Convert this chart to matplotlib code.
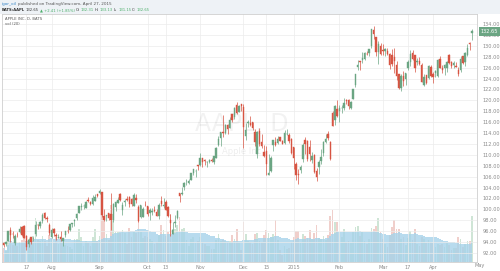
import numpy as np
import pandas as pd
import matplotlib
matplotlib.use("Agg")
import matplotlib.pyplot as plt
from matplotlib.patches import Rectangle
from matplotlib.transforms import blended_transform_factory

# AAPL daily candles, BATS, Jul 2 2014 - Apr 27 2015
holidays = ["2014-07-04", "2014-09-01", "2014-11-27", "2014-12-25",
            "2015-01-01", "2015-01-19", "2015-02-16", "2015-04-03"]
dates = pd.bdate_range("2014-07-02", "2015-04-27")
dates = dates[~dates.isin(pd.to_datetime(holidays))]

opens = [
    93.87, 93.67, 94.14, 96.27, 95.44, 93.76, 95.36, 95.86, 96.80, 96.97, 95.03, 93.62, 94.99, 94.68, 95.42, 97.04, 96.85, 97.82, 99.33, 98.44, 97.16,
    94.90, 96.37, 95.36, 94.75, 94.93, 94.26, 95.27, 96.04, 96.15, 97.33, 97.90, 98.49, 99.41, 100.44, 100.57, 100.29, 101.79, 101.42, 101.02, 101.59, 102.86,
    103.06, 103.10, 98.85, 98.80, 99.30, 99.08, 98.01, 100.41, 101.21, 102.81, 99.80, 101.27, 101.93, 102.29, 101.80, 100.60, 102.16, 100.51, 98.53, 98.65, 100.81,
    100.59, 99.27, 99.44, 99.95, 99.43, 98.76, 101.54, 100.69, 101.33, 100.39, 97.97, 95.55, 97.50, 98.32, 103.02, 102.84, 104.08, 105.18, 104.85, 105.40, 106.65, 106.96, 108.01,
    108.22, 109.36, 109.10, 108.60, 108.75, 109.02, 108.70, 109.38, 111.80, 113.15, 114.27, 113.94, 115.44, 114.91, 117.51, 116.85, 119.07, 117.94, 119.27,
    118.81, 113.50, 115.75, 115.77, 115.99, 114.10, 110.19, 114.41, 112.26, 110.46, 110.70, 106.37, 107.12, 111.87, 112.26, 112.16, 113.23, 112.58, 112.10, 113.79, 113.64, 112.82,
    111.39, 108.29, 106.54, 107.20, 109.23, 112.67, 112.60, 111.43, 109.04, 110.00, 107.03, 107.84, 108.95, 110.26, 112.30, 113.74, 112.42, 117.63, 116.32, 118.40,
    118.05, 118.50, 118.50, 120.02, 120.02, 118.55, 120.17, 122.77, 126.06, 127.28, 127.49, 127.63, 128.48, 128.62, 130.02, 132.94, 131.56, 128.79, 130.00,
    129.25, 128.96, 129.10, 128.58, 128.40, 127.96, 126.41, 124.75, 122.31, 124.40, 123.88, 125.90, 127.00, 128.75, 128.25, 127.12, 127.23, 126.54, 122.76, 124.57, 124.05, 126.09,
    124.82, 125.03, 124.47, 127.64, 125.85, 125.85, 125.95, 128.37, 127.00, 126.41, 126.28, 125.55, 125.57, 128.10, 126.99, 128.30, 130.49, 132.31,
]
highs = [
    94.06, 94.10, 95.99, 96.80, 95.95, 95.55, 95.89, 96.89, 96.85, 97.10, 95.28, 94.74, 95.00, 94.89, 97.88, 97.32, 97.84, 99.24, 99.44, 98.70, 97.45,
    96.62, 96.58, 95.68, 95.48, 95.95, 94.82, 96.08, 96.88, 97.24, 97.57, 98.19, 99.37, 100.68, 101.09, 100.94, 101.47, 102.17, 101.50, 102.57, 102.78, 102.90,
    103.74, 103.20, 100.09, 98.97, 99.31, 103.08, 101.11, 101.44, 102.19, 103.05, 101.26, 101.80, 102.35, 102.35, 102.14, 102.94, 102.85, 100.71, 100.75, 100.44, 101.54,
    100.69, 100.22, 100.21, 100.65, 100.12, 101.11, 102.38, 102.03, 101.78, 100.52, 99.15, 97.72, 99.00, 99.96, 103.02, 104.11, 105.05, 105.49, 105.48, 106.74, 107.37, 107.35, 108.04,
    110.30, 109.49, 109.30, 108.79, 109.32, 109.33, 109.75, 111.43, 113.45, 114.19, 117.28, 115.69, 115.74, 116.86, 117.57, 118.77, 119.75, 119.10, 119.40,
    119.25, 115.75, 116.35, 117.20, 116.08, 114.65, 114.30, 114.85, 113.80, 111.87, 111.60, 110.16, 109.84, 112.65, 113.24, 113.49, 113.33, 112.71, 114.52, 114.77, 113.92, 113.13,
    111.44, 108.65, 107.43, 108.20, 112.15, 113.25, 112.63, 112.80, 110.49, 110.06, 107.58, 108.97, 111.06, 112.47, 113.75, 114.36, 112.48, 118.12, 119.19, 120.00,
    119.17, 119.09, 120.51, 120.23, 120.25, 119.84, 122.15, 124.92, 127.48, 127.28, 128.88, 128.78, 129.03, 129.50, 133.00, 133.60, 131.60, 130.87, 130.57,
    130.28, 129.52, 129.56, 128.75, 129.37, 129.57, 127.22, 124.77, 124.90, 125.40, 124.95, 127.32, 129.16, 129.25, 128.40, 127.85, 128.04, 126.82, 124.88, 124.70, 126.40, 126.49,
    125.12, 125.56, 127.51, 128.12, 126.40, 126.58, 127.21, 128.57, 127.29, 127.13, 127.10, 126.14, 128.12, 128.20, 128.87, 130.42, 130.63, 133.13,
]
lows = [
    93.09, 93.20, 94.10, 93.92, 94.76, 93.52, 94.86, 95.65, 95.03, 94.74, 92.57, 93.02, 93.72, 94.12, 95.17, 96.42, 96.64, 97.55, 98.25, 97.67, 95.33,
    94.81, 95.17, 94.36, 94.71, 94.10, 93.28, 94.84, 95.61, 96.04, 96.80, 96.86, 97.98, 99.32, 99.95, 100.11, 100.19, 101.28, 100.86, 100.70, 101.56, 102.20,
    102.72, 98.58, 97.79, 97.88, 98.05, 96.14, 97.76, 99.62, 101.08, 101.44, 98.89, 100.59, 101.56, 100.50, 100.58, 100.54, 101.20, 97.72, 98.40, 98.63, 100.53,
    98.70, 98.04, 99.04, 99.42, 98.73, 98.31, 100.61, 100.30, 99.81, 98.57, 95.18, 95.41, 96.81, 98.22, 101.27, 102.60, 103.63, 104.53, 104.70, 105.35, 106.36, 105.90, 107.21,
    108.01, 107.72, 108.12, 107.80, 108.55, 108.67, 108.40, 109.37, 111.60, 111.56, 113.30, 113.89, 113.80, 114.85, 116.03, 116.62, 117.45, 117.83, 118.05,
    111.27, 112.75, 115.11, 115.29, 114.64, 111.62, 109.35, 111.54, 111.34, 109.58, 106.35, 106.26, 106.82, 110.66, 111.66, 111.97, 112.46, 112.01, 112.01, 113.70, 112.11, 110.21,
    107.35, 105.41, 104.63, 106.70, 108.70, 110.21, 108.80, 108.91, 108.50, 106.66, 105.20, 106.50, 108.27, 109.72, 112.13, 112.80, 109.03, 115.31, 115.56, 116.85,
    116.08, 117.61, 118.31, 119.25, 118.45, 118.43, 120.16, 122.50, 125.57, 125.65, 126.92, 127.45, 128.33, 128.05, 129.66, 131.17, 128.15, 126.61, 128.24,
    128.30, 128.09, 128.32, 125.76, 126.26, 125.06, 123.80, 122.11, 121.63, 122.58, 122.87, 125.65, 126.37, 127.40, 125.16, 126.52, 126.56, 123.38, 122.60, 122.91, 124.00, 124.36,
    123.10, 124.19, 124.33, 125.98, 124.97, 124.66, 125.26, 126.61, 125.91, 126.01, 126.11, 124.46, 125.17, 126.67, 126.32, 128.14, 129.23, 131.15,
]
closes = [
    93.48, 94.03, 95.97, 95.35, 95.39, 95.04, 95.22, 96.45, 95.32, 94.78, 93.09, 94.43, 93.94, 94.72, 97.19, 97.03, 97.67, 99.02, 98.38, 98.15, 95.60,
    96.13, 95.59, 95.12, 94.96, 94.48, 94.74, 95.99, 95.97, 97.24, 97.50, 97.98, 99.16, 100.53, 100.57, 100.58, 101.32, 101.54, 100.89, 102.13, 102.25, 102.50,
    103.30, 98.94, 98.12, 98.97, 98.36, 97.99, 101.00, 101.43, 101.66, 101.63, 100.86, 101.58, 101.79, 100.96, 101.06, 102.64, 101.75, 97.87, 100.75, 100.11, 100.75,
    99.18, 99.90, 99.62, 99.62, 98.75, 100.80, 101.02, 100.73, 99.81, 98.75, 97.54, 96.26, 97.67, 99.76, 102.47, 102.99, 104.83, 105.22, 105.11, 106.74, 107.34, 106.98, 108.00,
    109.40, 108.60, 108.86, 108.70, 109.01, 108.83, 109.70, 111.25, 112.82, 114.18, 113.99, 115.47, 114.67, 116.31, 116.47, 118.63, 117.60, 119.00, 118.93,
    115.07, 114.63, 115.93, 115.49, 115.00, 112.40, 114.12, 111.95, 111.62, 109.73, 108.23, 106.75, 109.41, 112.65, 111.78, 112.94, 112.54, 112.01, 113.99, 113.91, 112.52, 110.38,
    109.33, 106.25, 106.26, 107.75, 111.89, 112.01, 109.25, 110.22, 109.80, 106.82, 105.99, 108.72, 109.55, 112.40, 112.98, 113.10, 109.14, 115.31, 118.90, 117.16,
    118.63, 118.65, 119.56, 119.94, 118.93, 119.72, 122.02, 124.88, 126.46, 127.08, 127.83, 128.72, 128.45, 129.50, 133.00, 132.17, 128.79, 130.42, 128.46,
    129.09, 129.36, 128.54, 126.41, 126.60, 127.14, 124.51, 122.24, 124.45, 123.59, 124.95, 127.04, 128.47, 127.50, 125.90, 127.21, 126.69, 123.38, 124.24, 123.25, 126.37, 124.43,
    124.25, 125.32, 127.35, 126.01, 125.60, 126.56, 127.10, 126.85, 126.30, 126.78, 126.17, 124.75, 127.60, 126.91, 128.62, 129.67, 130.28, 132.65,
]
# volume, millions
volumes = [
    28.4, 22.9, 56.5, 65.1, 36.4, 39.7, 34.0, 42.8, 45.5, 53.4, 57.3, 49.0, 39.1, 55.2, 92.9, 45.7, 43.5, 55.3, 43.1, 33.0, 56.8,
    48.5, 39.9, 55.9, 38.5, 46.7, 41.9, 36.6, 33.8, 31.9, 28.1, 48.9, 47.6, 69.0, 52.7, 33.5, 44.2, 40.3, 33.2, 52.4, 68.5, 44.6,
    53.6, 105.0, 85.7, 58.5, 46.4, 120.0, 100.9, 62.4, 62.9, 61.3, 66.9, 60.9, 37.3, 70.9, 52.8, 63.4, 60.2, 100.1, 62.4, 49.8, 55.3,
    51.5, 47.8, 43.5, 37.1, 42.1, 57.4, 77.4, 66.3, 53.6, 63.7, 100.9, 68.2, 68.2, 77.5, 94.6, 68.3, 71.1, 47.1, 34.2, 48.1, 52.7, 40.6, 44.6,
    52.3, 41.6, 37.4, 34.0, 33.7, 27.2, 27.4, 46.9, 59.5, 44.1, 46.7, 44.2, 41.9, 43.4, 57.2, 47.5, 68.8, 40.8, 24.8,
    83.8, 59.3, 43.1, 42.2, 38.3, 57.7, 60.2, 44.6, 41.5, 56.0, 67.2, 60.8, 53.4, 59.0, 88.4, 45.2, 26.0, 14.5, 33.7, 27.6, 29.9, 41.4,
    53.2, 64.3, 65.8, 40.1, 59.4, 53.7, 49.7, 67.1, 48.3, 60.0, 78.5, 49.6, 48.6, 53.8, 46.5, 55.6, 95.9, 110.0, 84.4, 83.7,
    62.7, 51.9, 70.1, 42.2, 43.7, 38.9, 62.0, 73.6, 74.5, 54.3, 63.2, 44.9, 37.4, 48.9, 70.9, 69.3, 74.7, 91.3, 62.0,
    48.1, 37.8, 31.7, 56.5, 72.8, 88.5, 68.9, 68.9, 48.4, 51.8, 35.9, 51.0, 65.3, 45.6, 68.7, 37.7, 32.8, 51.7, 47.6, 39.5, 47.1, 42.1,
    40.6, 32.2, 37.2, 35.0, 37.3, 32.5, 40.2, 36.4, 25.5, 28.9, 28.4, 51.9, 47.9, 32.4, 37.7, 43.5, 44.5, 96.9,
]

tick_dates = ["2014-07-17", "2014-08-01", "2014-09-02", "2014-10-01", "2014-10-13",
              "2014-11-03", "2014-12-01", "2014-12-15", "2015-01-02", "2015-02-02",
              "2015-03-02", "2015-03-17", "2015-04-01"]
tick_labels = ["17", "Aug", "Sep", "Oct", "13", "Nov", "Dec", "15", "2015",
               "Feb", "Mar", "17", "Apr"]

UP = "#6ba583"
DOWN = "#d75442"
W, H = 500, 271

o = np.array(opens)
h = np.array(highs)
l = np.array(lows)
c = np.array(closes)
v = np.array(volumes)
x = np.arange(len(c))
up = c >= o
cols = np.where(up, UP, DOWN)

fig = plt.figure(figsize=(W / 100, H / 100), dpi=100)
fig.patch.set_facecolor("white")
fig.add_artist(Rectangle((0, 1 - 14 / H), 1, 14 / H, transform=fig.transFigure,
                         facecolor="#eef2f6", edgecolor="none", zorder=0))

ax = fig.add_axes([2 / W, 9 / H, 475 / W, 248 / H])
axv = ax.twinx()
axv.set_zorder(0)
ax.set_zorder(1)
ax.patch.set_alpha(0)

# volume + 20 day average
vcols = np.where(up, "#cfe5d6", "#f0cfcb")
axv.bar(x, v, width=0.75, color=vcols, linewidth=0)
vma = pd.Series(v).rolling(20, min_periods=1).mean()
axv.fill_between(x, 0, vma, color="#a6d3ea", alpha=0.8, linewidth=0, step="mid")
axv.set_ylim(0, 520)
axv.set_axis_off()

# candles
ax.vlines(x, l, h, colors=cols, linewidth=0.5, zorder=3)
body = np.maximum(np.abs(c - o), 0.06)
ax.bar(x, body, bottom=np.minimum(o, c), width=0.62, color=cols,
       edgecolor=cols, linewidth=0.3, zorder=4)

ax.set_xlim(-0.7, 207.2)
ax.set_ylim(90.33, 135.84)

pos = [dates.get_loc(pd.Timestamp(d)) for d in tick_dates]
ax.set_xticks(pos)
ax.set_xticklabels(tick_labels)
ax.yaxis.tick_right()
yt = np.arange(92, 135, 2)
ax.set_yticks(yt)
ax.set_yticklabels(["%.2f" % t for t in yt])
ax.tick_params(axis="both", length=0, labelsize=3.6, labelcolor="#8a8a8a")
ax.tick_params(axis="x", pad=2.5)
ax.tick_params(axis="y", pad=4)
ax.grid(color="#ececec", linewidth=0.5)
ax.set_axisbelow(True)
for s in ax.spines.values():
    s.set_color("#cfcfcf")
    s.set_linewidth(0.6)

fig.text(480 / W, 1 - 266 / H, "May", fontsize=3.6, color="#8a8a8a",
         ha="center", va="center")

# last price label
tr = blended_transform_factory(ax.transAxes, ax.transData)
ax.text(1.008, c[-1], "%.2f" % c[-1], transform=tr, fontsize=3.6, color="white",
        ha="left", va="center", zorder=6, clip_on=False,
        bbox=dict(boxstyle="square,pad=0.35", facecolor=UP, edgecolor="none"))

# watermark
ax.text(0.505, 0.555, "AAPL, D", transform=ax.transAxes, fontsize=17,
        color="#000000", alpha=0.05, ha="center", va="center", zorder=1)
ax.text(0.505, 0.445, "Apple Inc", transform=ax.transAxes, fontsize=6,
        color="#000000", alpha=0.07, ha="center", va="center", zorder=1)

fig.text(5 / W, 1 - 19 / H, "APPLE INC, D, BATS", fontsize=2.7, color="#555555",
         va="center")
fig.text(5 / W, 1 - 24 / H, "vol (20)", fontsize=2.7, color="#555555", va="center")

# header lines with mixed colours
renderer = fig.canvas.get_renderer()


def pieces(x_px, y_px, parts, size=3.0):
    xp = x_px
    for s, col, wt in parts:
        t = fig.text(xp / W, 1 - y_px / H, s, fontsize=size, color=col,
                     fontweight=wt, ha="left", va="center")
        xp = t.get_window_extent(renderer).x1 + 0.9


pieces(2, 4, [("igor_oil", "#3a87c8", "normal"),
              ("published on TradingView.com, April 27, 2015", "#555555", "normal")])
G = "#4caf6a"
pieces(2, 10, [("BATS:AAPL", "#333333", "bold"), ("132.65", "#333333", "normal"),
               ("\u25b2 +2.41 (+1.85%)", G, "normal"),
               ("O:", "#333333", "normal"), ("132.31", G, "normal"),
               ("H:", "#333333", "normal"), ("133.13", G, "normal"),
               ("L:", "#333333", "normal"), ("131.15", G, "normal"),
               ("C:", "#333333", "normal"), ("132.65", G, "normal")], size=2.7)

fig.savefig("out.png", dpi=100)
